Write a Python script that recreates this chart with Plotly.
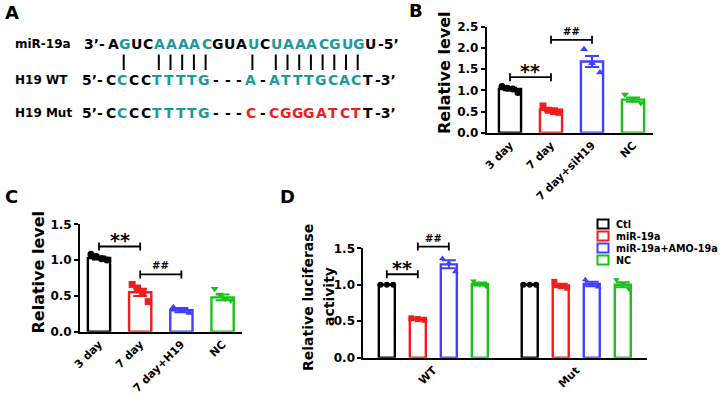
import numpy as np
import plotly.graph_objects as go

W, H = 720, 395
FONT = "DejaVu Sans"

# ---------------- Panel A: sequences ----------------
seq_labels = ["miR-19a", "H19 WT", "H19 Mut"]
seq_prefix = ["3\u2019-", "5\u2019-", "5\u2019-"]
seq_suffix = ["-5\u2019", "-3\u2019", "-3\u2019"]
seq_rows = ["AGUCAAAACGUAUCUAAACGUGU",
            "CCCCTTTTG---A-ATTTGCACT",
            "CCCCTTTTG---C-CGGGATCTT"]
seq_colors = ["KTKKTTTTTKKKTKTTTTTTTTK",
              "KTKKTTTTTKKKTKTTTTTTTTK",
              "KTKKTTTTTKKKRKRRRRRRRRK"]
pair_columns = [1, 4, 5, 6, 7, 8, 12, 14, 15, 16, 17, 18, 19, 20, 21]

# ---------------- Panel B ----------------
B_categories = ["3 day", "7 day", "7 day+siH19", "NC"]
B_means = [1.03, 0.54, 1.68, 0.78]
B_sems = [0.03, 0.035, 0.13, 0.05]
B_points = [[1.09, 1.05, 1.03, 0.95], [0.63, 0.53, 0.50, 0.48],
            [1.97, 1.64, 1.42], [0.90, 0.77, 0.70]]
B_sig_labels = ["**", "##"]
B_sig_from = [0, 1]
B_sig_to = [1, 2]
B_sig_y = [1.31, 2.19]

# ---------------- Panel C ----------------
C_categories = ["3 day", "7 day", "7 day+H19", "NC"]
C_means = [1.03, 0.55, 0.30, 0.48]
C_sems = [0.02, 0.05, 0.03, 0.04]
C_points = [[1.08, 1.05, 1.02, 1.00], [0.66, 0.61, 0.55, 0.42],
            [0.34, 0.30, 0.26], [0.60, 0.52, 0.46, 0.44]]
C_sig_labels = ["**", "##"]
C_sig_from = [0, 1]
C_sig_to = [1, 2]
C_sig_y = [1.19, 0.80]

# ---------------- Panel D ----------------
D_groups = ["WT", "Mut"]
D_series = ["Ctl", "miR-19a", "miR-19a+AMO-19a", "NC"]
D_means_ctl = [1.00, 1.00]
D_sems_ctl = [0.0, 0.0]
D_points_ctl = [[1.00, 1.00, 1.00], [1.00, 1.00, 1.00]]
D_means_mir = [0.53, 0.99]
D_sems_mir = [0.007, 0.025]
D_points_mir = [[0.54, 0.53, 0.52], [1.04, 0.98, 0.96]]
D_means_amo = [1.28, 1.01]
D_sems_amo = [0.055, 0.03]
D_points_amo = [[1.36, 1.30, 1.18], [1.07, 1.00, 0.97]]
D_means_nc = [1.01, 1.00]
D_sems_nc = [0.02, 0.035]
D_points_nc = [[1.05, 1.00, 0.98], [1.07, 1.00, 0.94]]
D_sig_labels = ["**", "##"]
D_sig_from = [0, 1]   # series index within WT group
D_sig_to = [1, 2]
D_sig_y = [1.144, 1.523]

# ---------------- style ----------------
COLORS = ["#000000", "#f21c1c", "#4040ff", "#18c218"]
SYMBOLS = ["circle", "square", "triangle-up", "triangle-down"]
TEAL = "#1b9a9c"
CHAR_COLOR = {"K": "#000000", "T": TEAL, "R": "#f21c1c"}


def px(x):
    return x / W


def py(y):
    return 1 - y / H


fig = go.Figure()
annotations = []
shapes = []

# axes geometry (pixels)
GEOM = {
    "B": dict(x0=486.7, x1=653.3, y0=132.7, y1=26.7, xr=[-0.568, 3.495], yr=[0, 2.5]),
    "C": dict(x0=80.0, x1=241.7, y0=331.7, y1=224.3, xr=[-0.461, 3.464], yr=[0, 1.5]),
    "D": dict(x0=363.3, x1=646.7, y0=357.7, y1=248.3, xr=[-0.49, 1.493], yr=[0, 1.5]),
}
AXN = {"B": ("x", "y"), "C": ("x2", "y2"), "D": ("x3", "y3")}


def ypix(panel, v):
    g = GEOM[panel]
    r0, r1 = g["yr"]
    return g["y0"] + (v - r0) / (r1 - r0) * (g["y1"] - g["y0"])


def jitter(c, n, width, spread=0.72):
    if n == 1:
        return [c]
    return [c + (j - (n - 1) / 2) / (n - 1) * spread * width for j in range(n)]


def add_bracket(panel, xa, xb, yv, label, small):
    xr, _ = AXN[panel]
    yp = ypix(panel, yv)
    line = dict(color="black", width=1.8)
    shapes.append(dict(type="line", xref=xr, yref="paper", x0=xa, x1=xb,
                       y0=py(yp), y1=py(yp), line=line))
    for xx in (xa, xb):
        shapes.append(dict(type="line", xref=xr, yref="paper", x0=xx, x1=xx,
                           y0=py(yp + 4), y1=py(yp - 4), line=line))
    annotations.append(dict(
        x=(xa + xb) / 2, y=py(yp), xref=xr, yref="paper", text=label, showarrow=False,
        xanchor="center", yanchor="bottom", yshift=(1 if small else -7),
        font=dict(family=FONT, size=(10 if small else 19), color="black", weight="bold")))


def simple_panel(panel, cats, means, sems, points, sig_labels, sig_from, sig_to, sig_y, bw=0.54):
    xr, yr = AXN[panel]
    xs = list(range(len(cats)))
    fig.add_trace(go.Bar(
        x=xs, y=means, width=bw, xaxis=xr, yaxis=yr,
        marker=dict(color="white", line=dict(color=COLORS[:len(cats)], width=2.4)),
        showlegend=False, hoverinfo="skip"))
    for i, pts in enumerate(points):
        fig.add_trace(go.Scatter(
            x=jitter(xs[i], len(pts), bw), y=pts, mode="markers", xaxis=xr, yaxis=yr,
            marker=dict(symbol=SYMBOLS[i], color=COLORS[i], size=7),
            showlegend=False, hoverinfo="skip", cliponaxis=False))
        fig.add_trace(go.Scatter(
            x=[xs[i]], y=[means[i]], mode="markers", xaxis=xr, yaxis=yr,
            marker=dict(size=1, opacity=0),
            error_y=dict(type="data", array=[sems[i]], color=COLORS[i], thickness=2, width=7),
            showlegend=False, hoverinfo="skip"))
    for lab, a, b, yv in zip(sig_labels, sig_from, sig_to, sig_y):
        add_bracket(panel, xs[a], xs[b], yv, lab, lab == "##")


simple_panel("B", B_categories, B_means, B_sems, B_points,
             B_sig_labels, B_sig_from, B_sig_to, B_sig_y)
simple_panel("C", C_categories, C_means, C_sems, C_points,
             C_sig_labels, C_sig_from, C_sig_to, C_sig_y)

# Panel D grouped bars
D_STEP = 0.217
D_BW = 0.112
D_means = [D_means_ctl, D_means_mir, D_means_amo, D_means_nc]
D_sems = [D_sems_ctl, D_sems_mir, D_sems_amo, D_sems_nc]
D_points = [D_points_ctl, D_points_mir, D_points_amo, D_points_nc]


def dpos(g, s):
    return g + (s - 1.5) * D_STEP


for s, name in enumerate(D_series):
    xs = [dpos(g, s) for g in range(len(D_groups))]
    fig.add_trace(go.Bar(
        x=xs, y=D_means[s], width=D_BW, xaxis="x3", yaxis="y3", name=name,
        marker=dict(color="white", line=dict(color=COLORS[s], width=2.4)),
        showlegend=False, hoverinfo="skip"))
for s, name in enumerate(D_series):
    for g in range(len(D_groups)):
        pts = D_points[s][g]
        fig.add_trace(go.Scatter(
            x=jitter(dpos(g, s), len(pts), D_BW, 0.8), y=pts, mode="markers",
            xaxis="x3", yaxis="y3",
            marker=dict(symbol=SYMBOLS[s], color=COLORS[s], size=6),
            showlegend=False, hoverinfo="skip", cliponaxis=False))
    fig.add_trace(go.Scatter(
        x=[dpos(g, s) for g in range(len(D_groups))], y=D_means[s], mode="markers",
        xaxis="x3", yaxis="y3", marker=dict(size=1, opacity=0),
        error_y=dict(type="data", array=D_sems[s], color=COLORS[s], thickness=2, width=7),
        showlegend=False, hoverinfo="skip"))
for lab, a, b, yv in zip(D_sig_labels, D_sig_from, D_sig_to, D_sig_y):
    add_bracket("D", dpos(0, a), dpos(0, b), yv, lab, lab == "##")

# legend for D (manual)
for i, name in enumerate(D_series):
    cy = 224 + i * 12.0
    shapes.append(dict(type="rect", xref="paper", yref="paper",
                       x0=px(597.5), x1=px(608.5), y0=py(cy + 4.5), y1=py(cy - 4.5),
                       line=dict(color=COLORS[i], width=2), fillcolor="white"))
    annotations.append(dict(x=px(614), y=py(cy), xref="paper", yref="paper", text=name,
                            showarrow=False, xanchor="left", yanchor="middle",
                            font=dict(family=FONT, size=9.6, color="black", weight="bold")))

# ---------------- axes ----------------
font_ytick = dict(family=FONT, size=12, color="black", weight="bold")
font_xtick = dict(family=FONT, size=11, color="black", weight="bold")
layout_axes = {}
for panel, (xn, yn) in AXN.items():
    g = GEOM[panel]
    xk = "xaxis" + xn[1:]
    yk = "yaxis" + yn[1:]
    if panel == "D":
        tv = list(range(len(D_groups)))
        tt = D_groups
    else:
        cats = B_categories if panel == "B" else C_categories
        tv = list(range(len(cats)))
        tt = cats
    layout_axes[xk] = dict(domain=[px(g["x0"]), px(g["x1"])], range=g["xr"], anchor=yn,
                           showline=True, linecolor="black", linewidth=1.8,
                           showgrid=False, zeroline=False, ticks="",
                           tickvals=tv, ticktext=tt, tickangle=-45, tickfont=font_xtick,
                           fixedrange=True, automargin=False)
    layout_axes[yk] = dict(domain=[py(g["y0"]), py(g["y1"])], range=g["yr"], anchor=xn,
                           showline=True, linecolor="black", linewidth=1.8,
                           showgrid=False, zeroline=False, ticks="outside", ticklen=4,
                           tickwidth=1.8, tickcolor="black", dtick=0.5, tickformat=".1f",
                           tickfont=font_ytick, fixedrange=True, automargin=False)

# axis titles
title_font16 = dict(family=FONT, size=16, color="black", weight="bold")
title_font14 = dict(family=FONT, size=14, color="black", weight="bold")
titles = [
    dict(x=px(444), y=py(73), text="Relative level", textangle=-90, font=title_font16),
    dict(x=px(38), y=py(272.5), text="Relative level", textangle=-90, font=title_font16),
    dict(x=px(308), y=py(298), text="Relative luciferase", textangle=-90, font=title_font14),
    dict(x=px(329), y=py(297), text="activity", textangle=-90, font=title_font14),
]
for a in titles:
    a.update(xref="paper", yref="paper", showarrow=False, xanchor="center", yanchor="middle")
annotations += titles

# panel letters
letter_font = dict(family=FONT, size=18, color="black", weight="bold")
for lab, lx, ly in [("A", 3, 12.5), ("B", 407, 10), ("C", 3, 196.5), ("D", 278, 196.5)]:
    annotations.append(dict(x=px(lx), y=py(ly), xref="paper", yref="paper", text=lab,
                            showarrow=False, xanchor="left", yanchor="middle", font=letter_font))

# ---------------- Panel A drawing ----------------
ROW_Y = [44.3, 80.0, 113.3]
ROW_X0 = [113.0, 110.5, 110.5]
COL_STEP = 11.7
seq_font_size = 14
for r in range(3):
    annotations.append(dict(x=px(12.5), y=py(ROW_Y[r]), xref="paper", yref="paper",
                            text=seq_labels[r], showarrow=False, xanchor="left", yanchor="middle",
                            font=dict(family=FONT, size=12, color="black", weight="bold")))
    annotations.append(dict(x=px(ROW_X0[r] - 6), y=py(ROW_Y[r]), xref="paper", yref="paper",
                            text=seq_prefix[r], showarrow=False, xanchor="right", yanchor="middle",
                            font=dict(family=FONT, size=seq_font_size, color="black", weight="bold")))
    for c, (ch, cc) in enumerate(zip(seq_rows[r], seq_colors[r])):
        annotations.append(dict(x=px(ROW_X0[r] + c * COL_STEP), y=py(ROW_Y[r]),
                                xref="paper", yref="paper", text=ch, showarrow=False,
                                xanchor="center", yanchor="middle",
                                font=dict(family=FONT, size=seq_font_size,
                                          color=CHAR_COLOR[cc], weight="bold")))
    last = ROW_X0[r] + (len(seq_rows[r]) - 1) * COL_STEP
    annotations.append(dict(x=px(last + 5.5), y=py(ROW_Y[r]), xref="paper", yref="paper",
                            text=seq_suffix[r], showarrow=False, xanchor="left", yanchor="middle",
                            font=dict(family=FONT, size=seq_font_size, color="black", weight="bold")))
for c in pair_columns:
    xx = px(112.0 + c * COL_STEP)
    shapes.append(dict(type="line", xref="paper", yref="paper", x0=xx, x1=xx,
                       y0=py(54.5), y1=py(70), line=dict(color="black", width=2)))

fig.update_layout(
    width=W, height=H, margin=dict(l=0, r=0, t=0, b=0, pad=0),
    paper_bgcolor="white", plot_bgcolor="white",
    showlegend=False, annotations=annotations, shapes=shapes,
    font=dict(family=FONT, color="black"),
    **layout_axes)

fig.write_html("out.html", config={"displayModeBar": False},
               post_script="document.body.style.margin='0px';document.body.style.overflow='hidden';")
